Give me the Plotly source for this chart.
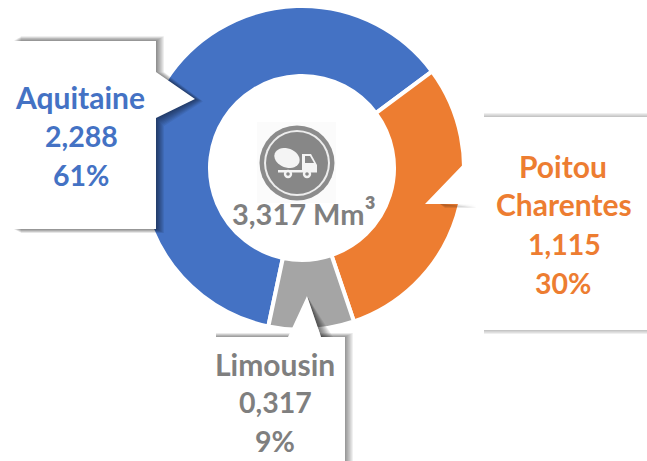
import math
import plotly.graph_objects as go

W, H = 647, 461
regions = ["Aquitaine", "Poitou Charentes", "Limousin"]
volumes = [2288, 1115, 317]
colors = ["#4472C4", "#ED7D31", "#A5A5A5"]
value_labels = ["2,288", "1,115", "0,317"]
share_labels = ["61%", "30%", "9%"]
total_label = "3,317 Mm<span style='font-size:34px'>³</span>"
text_greys = "#7F7F7F"
FONT = "Lato"


def X(px):
    return px / W


def Y(py):
    return 1 - py / H


def path(points):
    return "M " + " L ".join(f"{X(a):.5f},{Y(b):.5f}" for a, b in points) + " Z"


def poly(points, fill, opacity=1.0):
    return dict(type="path", xref="paper", yref="paper", path=path(points), fillcolor=fill,
                opacity=opacity, line=dict(width=0), layer="above")


def oval(cx, cy, rx, ry, fill, opacity=1.0):
    return dict(type="circle", xref="paper", yref="paper", x0=X(cx - rx), x1=X(cx + rx), y0=Y(cy - ry),
                y1=Y(cy + ry), fillcolor=fill, opacity=opacity, line=dict(width=0), layer="above")


def tilted_oval(cx, cy, rx, ry, deg, fill):
    t = math.radians(deg)
    pts = []
    for i in range(36):
        a = 2 * math.pi * i / 36
        u, v = rx * math.cos(a), ry * math.sin(a)
        pts.append((cx + u * math.cos(t) - v * math.sin(t), cy + u * math.sin(t) + v * math.cos(t)))
    return poly(pts, fill)


shapes = []

# Aquitaine callout
for k in range(8, 0, -1):
    shapes.append(poly([(13 + k, 41 - k * .6), (156 + k, 41 - k * .6), (156 + k, 72), (195 + k, 99 + k * .3),
                        (156 + k, 118 + k), (156 + k, 229 + k * .5), (13 + k, 229 + k * .5)], "#000000", .065))
shapes.append(poly([(0, 41), (156, 41), (156, 72), (195, 99), (156, 118), (156, 229), (0, 229)], "#FFFFFF"))

# Poitou Charentes callout
for k in range(5, 0, -1):
    shapes.append(poly([(484, 117 - k * .8), (647, 117 - k * .8), (647, 330 + k * .8), (484, 330 + k * .8)],
                       "#000000", .05))
    shapes.append(poly([(440, 204), (477, 204 + k * .8), (445, 204 + k * .8)], "#000000", .07))
shapes.append(poly([(477, 117), (647, 117), (647, 330), (477, 330), (477, 204), (425, 204), (477, 150)], "#FFFFFF"))

# Limousin callout
for k in range(8, 0, -1):
    shapes.append(poly([(216, 337 - k * .5), (345 + k, 337 - k * .5), (345 + k, 461), (216, 461)], "#000000", .06))
    shapes.append(poly([(307, 296), (321 + k * 1.5, 337), (321, 337)], "#000000", .08))
shapes.append(poly([(208, 337), (288, 337), (307, 296), (321, 337), (345, 337), (345, 461), (208, 461)], "#FFFFFF"))

# Centre icon: mixer truck in a round badge
shapes += [
    poly([(257, 122), (336, 122), (336, 203), (257, 203)], "#FBFBFB"),
    oval(297, 163, 37.5, 37.5, "#8C8C8C"),
    oval(297, 163, 33, 33, "#EDEDED"),
    oval(297, 163, 31, 31, "#878787"),
    tilted_oval(287, 158, 13, 9.5, 20, "#F4F4F4"),
    poly([(302, 154), (311, 154), (317, 165), (317, 172), (302, 172)], "#F4F4F4"),
    poly([(305, 156), (310, 156), (314, 163), (305, 163)], "#878787"),
    poly([(278, 170), (317, 170), (317, 172.5), (278, 172.5)], "#F4F4F4"),
    oval(288, 174, 4.2, 4.2, "#F4F4F4"),
    oval(288, 174, 1.8, 1.8, "#878787"),
    oval(307, 174, 4.2, 4.2, "#F4F4F4"),
    oval(307, 174, 1.8, 1.8, "#878787"),
]

annotations = []


def add_text(text, cx, cy, color, size=28.5):
    annotations.append(dict(text=f"<b>{text}</b>", x=X(cx), y=Y(cy), xref="paper", yref="paper", xanchor="center",
                            yanchor="middle", showarrow=False, font=dict(family=FONT, size=size, color=color)))


add_text(regions[0], 80, 97, colors[0], 30)
add_text(value_labels[0], 81, 136, colors[0])
add_text(share_labels[0], 81, 175, colors[0])

first, second = regions[1].split(" ")
add_text(first, 563, 166, colors[1], 30)
add_text(second, 564, 204, colors[1], 30)
add_text(value_labels[1], 564, 244, colors[1])
add_text(share_labels[1], 563, 283, colors[1])

add_text(regions[2], 275, 364, text_greys, 30)
add_text(value_labels[2], 275, 402, text_greys)
add_text(share_labels[2], 275, 441, text_greys)

add_text(total_label, 304, 211, text_greys, 29)

fig = go.Figure(go.Pie(
    labels=regions,
    values=volumes,
    hole=92 / 162,
    sort=False,
    direction="clockwise",
    rotation=192,
    textinfo="none",
    hoverinfo="skip",
    marker=dict(colors=colors, line=dict(color="#FFFFFF", width=4)),
    domain=dict(x=[X(302 - 162), X(302 + 162)], y=[Y(330), Y(6)]),
))
fig.update_layout(
    width=W, height=H, margin=dict(l=0, r=0, t=0, b=0), showlegend=False,
    paper_bgcolor="#FFFFFF", shapes=shapes, annotations=annotations,
)
fig.write_html("out.html", config=dict(displayModeBar=False),
               post_script="document.body.style.margin='0';document.documentElement.style.overflow='hidden';")
